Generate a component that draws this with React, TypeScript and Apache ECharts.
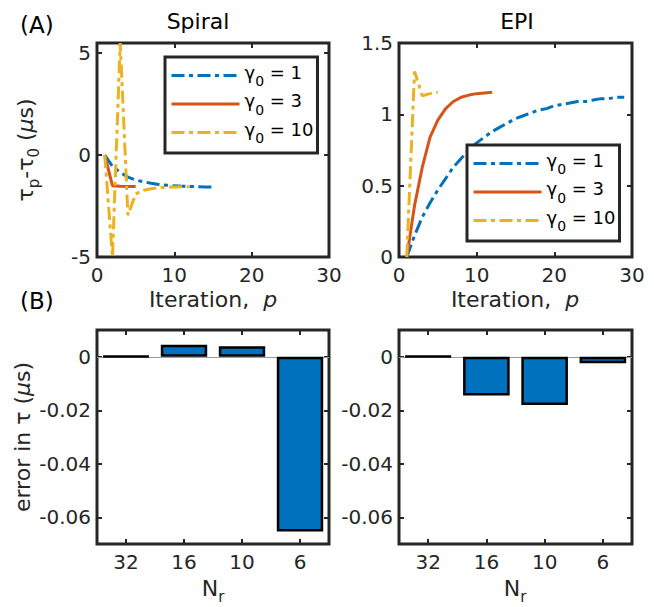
import React, { useEffect, useRef } from 'react';
import * as echarts from 'echarts';

const FONT = 'DejaVu Sans';
const AX = '#262626';
const BLUE = '#0072BD';
const RED = '#D95319';
const YELLOW = '#EDB120';
const DASHDOT = [13, 4.5, 4, 4.5];

const gammaNames = ['γ0 = 1', 'γ0 = 3', 'γ0 = 10'];

// Spiral (A, left)
const spiralIterG1 = [1, 2, 3, 4, 5, 6, 7, 8, 9, 10, 11, 12, 13, 14, 15];
const spiralTauG1 = [0, -0.55, -0.85, -1.08, -1.22, -1.31, -1.38, -1.44, -1.48, -1.51, -1.53, -1.54, -1.55, -1.56, -1.57];
const spiralIterG3 = [1, 2, 3, 4, 5];
const spiralTauG3 = [0, -1.5, -1.53, -1.54, -1.54];
const spiralIterG10 = [1, 2, 3, 4, 5, 6, 7, 8, 9, 10, 11, 12];
const spiralTauG10 = [0, -5, 5.5, -2.95, -1.9, -1.72, -1.65, -1.6, -1.57, -1.56, -1.55, -1.55];

// EPI (A, right)
const epiIterG1 = [1, 2, 3, 4, 5, 6, 7, 8, 9, 10, 11, 12, 13, 14, 15, 16, 17, 18, 19, 20, 21, 22, 23, 24, 25, 26, 27, 28, 29];
const epiTauG1 = [0, 0.15, 0.28, 0.38, 0.47, 0.55, 0.63, 0.69, 0.75, 0.8, 0.84, 0.88, 0.91, 0.94, 0.97, 0.99, 1.01, 1.03, 1.04, 1.06, 1.07, 1.08, 1.09, 1.09, 1.1, 1.11, 1.11, 1.12, 1.12];
const epiIterG3 = [1, 2, 3, 4, 5, 6, 7, 8, 9, 10, 11, 12];
const epiTauG3 = [0, 0.36, 0.63, 0.84, 0.96, 1.04, 1.09, 1.12, 1.135, 1.145, 1.15, 1.155];
const epiIterG10 = [1, 2, 3, 4, 5];
const epiTauG10 = [0, 1.3, 1.13, 1.145, 1.155];

// Bars (B)
const nrLabels = ['32', '16', '10', '6'];
const spiralErr = [0.0002, 0.0045, 0.0039, -0.0653];
const epiErr = [0.0002, -0.0145, -0.018, -0.0024];

// Ticks
const spiralYTicks = [-5, 0, 5];
const epiYTicks = [0, 0.5, 1, 1.5];
const errYTicks = [-0.06, -0.04, -0.02, 0];

const pairs = (xs: number[], ys: number[]) => xs.map((x, i) => [x, ys[i]]);

const tick = (custom?: any[]) => ({
  show: true,
  inside: true,
  length: 5,
  lineStyle: { color: AX, width: 2 },
  ...(custom ? { customValues: custom } : {}),
});

const label = (margin: number, custom?: number[]) => ({
  show: true,
  fontFamily: FONT,
  fontSize: 20,
  color: AX,
  margin,
  ...(custom ? { customValues: custom } : {}),
  formatter: (v: any) => String(v),
});

const noLine = { show: false, onZero: false };

const valueX = (gridIndex: number, position: 'top' | 'bottom') => ({
  type: 'value',
  gridIndex,
  position,
  min: 0,
  max: 30,
  interval: 10,
  axisLine: noLine,
  axisTick: tick(),
  axisLabel: position === 'bottom' ? label(8) : { show: false },
  splitLine: { show: false },
});

const valueY = (gridIndex: number, position: 'left' | 'right', min: number, max: number, ticks: number[]) => ({
  type: 'value',
  gridIndex,
  position,
  min,
  max,
  axisLine: noLine,
  axisTick: tick(ticks),
  axisLabel: position === 'left' ? label(6, ticks) : { show: false, customValues: ticks },
  splitLine: { show: false },
});

const catX = (gridIndex: number, position: 'top' | 'bottom') => ({
  type: 'category',
  gridIndex,
  position,
  data: nrLabels,
  boundaryGap: true,
  axisLine: noLine,
  axisTick: { ...tick(), alignWithLabel: true },
  axisLabel: position === 'bottom' ? label(8) : { show: false },
  splitLine: { show: false },
});

const legendRich = {
  g: { fontFamily: FONT, fontSize: 18, color: '#000', verticalAlign: 'top', lineHeight: 20 },
  s: { fontFamily: FONT, fontSize: 14, color: '#000', verticalAlign: 'top', padding: [11, 0, 0, 0] },
  t: { fontFamily: FONT, fontSize: 18, color: '#000', verticalAlign: 'top', lineHeight: 20 },
};

const legendFmt = (name: string) => {
  const v = name.split('= ')[1];
  return '{g|γ}{s|0}{t| = ' + v + '}';
};

const makeLegend = (left: number, top: number) => ({
  left,
  top,
  orient: 'vertical',
  data: gammaNames,
  selectedMode: false,
  backgroundColor: '#fff',
  borderColor: AX,
  borderWidth: 3,
  borderRadius: 0,
  padding: [6, 4, 8, 5],
  itemWidth: 68,
  itemHeight: 14,
  itemGap: 3.5,
  itemStyle: { opacity: 0 },
  lineStyle: { width: 3, opacity: 1 },
  formatter: legendFmt,
  textStyle: { fontFamily: FONT, fontSize: 18, color: '#000', rich: legendRich },
});

const labelRich = {
  t: { fontFamily: FONT, fontSize: 22, color: AX, verticalAlign: 'top', lineHeight: 24 },
  i: { fontFamily: FONT, fontSize: 22, fontStyle: 'italic', color: AX, verticalAlign: 'top', lineHeight: 24 },
  s: { fontFamily: FONT, fontSize: 15, color: AX, verticalAlign: 'top', padding: [12, 0, 0, 0] },
};

const txt = (text: string, x: number, y: number, opts: any = {}) => ({
  type: 'text',
  x,
  y,
  rotation: opts.rotation || 0,
  silent: true,
  style: {
    text,
    fontFamily: FONT,
    fontSize: opts.fontSize || 22,
    fill: opts.fill || AX,
    align: opts.align || 'center',
    verticalAlign: 'middle',
    rich: opts.rich,
  },
});

const lineSeries = (name: string, xi: number, xs: number[], ys: number[], color: string, type: any) => ({
  type: 'line',
  name,
  xAxisIndex: xi,
  yAxisIndex: xi,
  data: pairs(xs, ys),
  symbol: 'none',
  showSymbol: false,
  clip: true,
  lineStyle: { color, width: 3, type },
  itemStyle: { color },
});

const barSeries = (xi: number, data: number[]) => ({
  type: 'bar',
  xAxisIndex: xi,
  yAxisIndex: xi,
  data,
  barWidth: '80%',
  itemStyle: { color: BLUE, borderColor: '#000', borderWidth: 2.5 },
  markLine: {
    silent: true,
    symbol: 'none',
    z: 1,
    label: { show: false },
    lineStyle: { color: '#9a9a9a', width: 1, type: 'solid' },
    data: [{ yAxis: 0 }],
  },
});

export default function App() {
  const ref = useRef<HTMLDivElement>(null);
  useEffect(() => {
    if (!ref.current) return;
    document.body.style.margin = '0';
    const chart = echarts.init(ref.current, null, { renderer: 'svg' });
    const gridBase = { show: true, borderColor: AX, borderWidth: 3, backgroundColor: 'rgba(0,0,0,0)' };
    chart.setOption({
      animation: false,
      backgroundColor: '#fff',
      grid: [
        { ...gridBase, left: 97, top: 43, width: 232, height: 214 },
        { ...gridBase, left: 399, top: 43, width: 233, height: 214 },
        { ...gridBase, left: 97, top: 330, width: 232, height: 214 },
        { ...gridBase, left: 399, top: 330, width: 233, height: 214 },
      ],
      xAxis: [
        valueX(0, 'bottom'),
        valueX(0, 'top'),
        valueX(1, 'bottom'),
        valueX(1, 'top'),
        catX(2, 'bottom'),
        catX(2, 'top'),
        catX(3, 'bottom'),
        catX(3, 'top'),
      ],
      yAxis: [
        valueY(0, 'left', -5, 5.5, spiralYTicks),
        valueY(0, 'right', -5, 5.5, spiralYTicks),
        valueY(1, 'left', 0, 1.5, epiYTicks),
        valueY(1, 'right', 0, 1.5, epiYTicks),
        valueY(2, 'left', -0.07, 0.01, errYTicks),
        valueY(2, 'right', -0.07, 0.01, errYTicks),
        valueY(3, 'left', -0.07, 0.01, errYTicks),
        valueY(3, 'right', -0.07, 0.01, errYTicks),
      ],
      legend: [makeLegend(165, 57), makeLegend(467, 145)],
      series: [
        lineSeries(gammaNames[0], 0, spiralIterG1, spiralTauG1, BLUE, DASHDOT),
        lineSeries(gammaNames[1], 0, spiralIterG3, spiralTauG3, RED, 'solid'),
        lineSeries(gammaNames[2], 0, spiralIterG10, spiralTauG10, YELLOW, DASHDOT),
        lineSeries(gammaNames[0], 2, epiIterG1, epiTauG1, BLUE, DASHDOT),
        lineSeries(gammaNames[1], 2, epiIterG3, epiTauG3, RED, 'solid'),
        lineSeries(gammaNames[2], 2, epiIterG10, epiTauG10, YELLOW, DASHDOT),
        barSeries(4, spiralErr),
        barSeries(6, epiErr),
      ],
      graphic: [
        txt('(A)', 20, 25, { align: 'left', fill: '#000', fontSize: 23 }),
        txt('(B)', 20, 301, { align: 'left', fill: '#000', fontSize: 23 }),
        txt('Spiral', 198, 21, { fill: '#000' }),
        txt('EPI', 517, 21, { fill: '#000' }),
        txt('{t|Iteration,  }{i|p}', 213, 300, { rich: labelRich }),
        txt('{t|Iteration,  }{i|p}', 515, 300, { rich: labelRich }),
        txt('{t|N}{s|r}', 213, 591, { rich: labelRich }),
        txt('{t|N}{s|r}', 515, 591, { rich: labelRich }),
        txt('{t|τ}{s|p}{t|-τ}{s|0}{t| (}{i|μ}{t|s)}', 28, 150, { rich: labelRich, rotation: Math.PI / 2 }),
        txt('{t|error in τ (}{i|μ}{t|s)}', 23, 437, { rich: labelRich, rotation: Math.PI / 2 }),
      ],
    });
    return () => chart.dispose();
  }, []);
  return <div ref={ref} style={{ position: 'absolute', left: 0, top: 0, width: 654, height: 607 }} />;
}
